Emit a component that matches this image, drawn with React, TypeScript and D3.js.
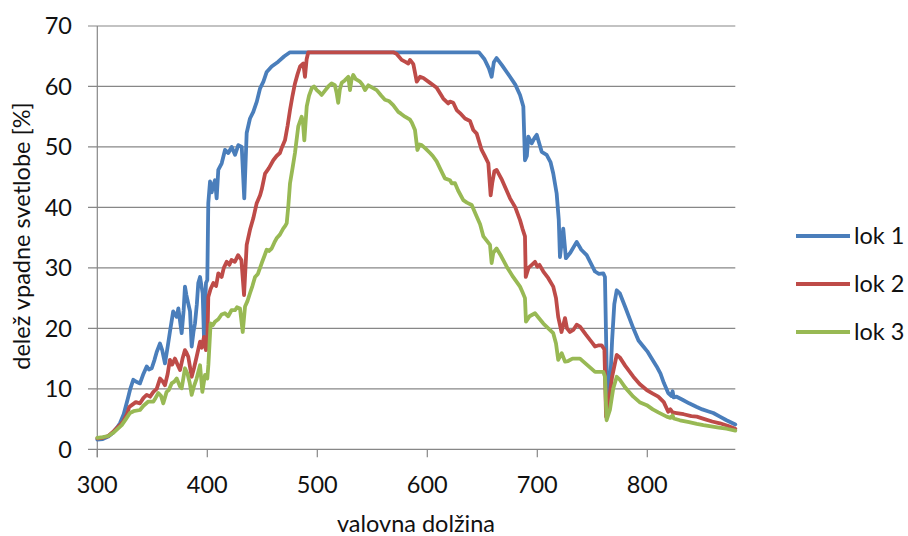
import React from "react";
import * as d3 from "d3";

// ---- data (wavelength [nm], share of incident light [%]) ----
const seriesNames = ["lok 1", "lok 2", "lok 3"];
const seriesColors = ["#4a7ebb", "#be4b48", "#98b954"];
const xTicks = [300, 400, 500, 600, 700, 800];
const yTicks = [0, 10, 20, 30, 40, 50, 60, 70];

const lok1: [number, number][] = [
  [300,1.6],[305,1.7],[310,2.1],[314,2.7],[318,3.6],[320.6,4.3],[324,5.8],[328.2,8.7],[330,10],[332.7,11.5],[335,11.2],[338.8,10.9],[342,12.5],[344.9,13.7],[347,13.2],[349.5,13.4],[352,14.8],[354,16.1],[357,17.5],[359,16.4],[361.5,14.2],[364,17],[366,19.4],[369,22.8],[372.2,21.9],[373.7,23.3],[375,21.5],[376.7,19.2],[378.5,23],[379.7,26.9],[381,25.5],[382.7,24.1],[384.3,22.8],[385.8,17],[387.5,19.5],[388.8,20.8],[390.5,24],[391.8,27.5],[393.4,28.5],[395.8,25.8],[397,18.4],[398.8,27.5],[400,28],[400.9,40.7],[402.5,44.3],[404,42.5],[405.5,43.7],[407,44.5],[408.5,41.5],[410,46.2],[413.1,47.3],[416.1,49.5],[419.1,49],[422.2,50],[425.2,48.7],[428.2,50.3],[431.3,50],[433.6,41.5],[435.8,52.3],[438.8,54.7],[441.8,55.8],[445,57.5],[448,59.7],[451,60.8],[454,62.4],[458.5,63.3],[464.5,64.1],[470,65],[475.2,65.65],[647,65.65],[652,64.5],[656,63],[658.5,61.6],[660.5,64],[663,64.7],[668,63.5],[675.2,61.6],[680,60.3],[684.3,58.6],[687.3,56.7],[688.8,47.8],[690.5,48.5],[691.8,51.7],[694.9,50.6],[697.5,51.5],[699.5,52],[704,49.2],[708.5,48.7],[712,47.5],[714.5,45.6],[717.6,42.3],[719.5,38],[720.6,31.8],[722,34],[723.6,36.5],[726,31.6],[730,32.5],[735.8,34.3],[740,33],[744.9,32.1],[748,31],[752.5,29.4],[756,29],[760,29.1],[761.5,28.5],[763,14],[764.5,7],[766,10],[768,18],[770,24],[772.2,26.3],[775,25.8],[780,23.5],[787.3,20],[792,18],[796.4,17],[800,16.2],[804,15],[808.5,13.7],[812,12.5],[815,11],[819,9.3],[822,8.8],[823,9.6],[824,8.6],[826.7,8.7],[832,8.2],[838,7.6],[845,7],[850,6.6],[855,6.3],[860,6],[866,5.4],[872,4.8],[880,4.1],
];

const lok2: [number, number][] = [
  [300,1.8],[305,1.9],[310,2.2],[315,3],[320,3.9],[323.6,4.6],[327,5.8],[329,7],[331.3,7.3],[335,7.8],[338.8,7.6],[342,8.5],[344.9,9],[348,8.7],[351,9.5],[354,10],[357,11.7],[359.5,11.2],[361.5,10.6],[364,12.5],[366,14.8],[368,14],[370.6,15],[373,14],[375.2,13.1],[377.5,15],[379.7,16.4],[381,16],[382.7,15.3],[385.8,12],[388,13.5],[390.3,15.3],[393.4,17.8],[395,16.8],[397,18.6],[398.8,16.4],[400,17],[400.9,25.2],[403,26.5],[405.5,27.5],[408,27],[410,29.1],[413,28.5],[415,30],[417.6,31],[420,30.5],[422,31.3],[425,31],[428,32.1],[431,31.3],[433.4,25.5],[435.8,33.8],[438.8,36.3],[441.8,38.2],[444.9,40.7],[448,42],[449.5,43],[452.5,45.6],[456,46.5],[460,47.8],[463,48.5],[466,49],[468,50],[470.6,51.1],[473,53.5],[475.2,56.1],[477.5,58.5],[479.7,60.5],[482,62],[484.3,63.3],[487.3,63.8],[488.8,61.6],[490.3,64.5],[491.8,65.65],[569,65.65],[572,65.4],[576.7,64.4],[579.7,64.1],[582.7,63.8],[584.3,64.4],[587.3,63.7],[590.4,60.8],[593.4,61.6],[596.4,61.4],[602.5,60.6],[605.5,60.2],[608.5,59.8],[614.5,58],[619,57.2],[620.6,57.5],[623.6,57.3],[626.7,56.1],[629.7,55.6],[634.3,54.7],[638.8,54.3],[641.8,52.8],[644.9,52.2],[649.4,49.5],[652,48.6],[655.5,47.3],[657.6,42],[659,44],[661,46],[663,46.2],[668,44.5],[675.2,41.5],[680,40],[684.3,37.9],[686.5,36.5],[688.8,35.2],[689.5,28.5],[692,30],[695,30.5],[697.9,31],[700,30.2],[702,30.5],[705.5,29.4],[710,28.3],[714.5,26.9],[717,25],[719,21.9],[722,19.4],[723.5,20.5],[725.2,21.7],[727,20],[729.7,19.4],[733,19.8],[735.8,20.6],[738.8,20.3],[744,19],[750,17.6],[752.5,17],[756,17.2],[758.5,17.2],[761,16.5],[762.5,5.4],[765,8],[768,12],[772.2,15.6],[775,15.2],[780,13.8],[787.3,12],[793,10.8],[799.5,9.8],[805,9.2],[810,8.7],[815,7.8],[819,6.2],[821,6.6],[823,6.1],[826.7,6],[833,5.8],[840,5.5],[845,5.4],[852,5],[859,4.6],[866,4.3],[873,3.9],[880,3.4],
];

const lok3: [number, number][] = [
  [300,1.9],[305,2],[310,2.2],[315,2.8],[322.2,4],[326,5],[329.7,6],[333,6.3],[338.8,6.5],[342,7.2],[346.4,7.9],[351,7.9],[353,8.5],[355.5,9.3],[358,8.8],[360,7.6],[363,9.5],[365,9.8],[367.6,10.9],[370,11.2],[372.2,11.7],[375.2,10.4],[376.7,10.1],[378,11.5],[379.7,13.4],[382,12.5],[384,11],[385.8,9],[388,10.5],[390.3,11.7],[393.4,13.9],[395.5,9.5],[397.9,12.3],[400,11.7],[401,14],[403,20.8],[405,20.5],[407,21.1],[410,21.5],[413,22.3],[416,22.5],[419,22],[422,23],[425.2,23],[427,23.5],[429.7,23.3],[432.2,19.4],[434.3,23.6],[436.5,24.5],[438.8,25.8],[441,27],[443.4,28.5],[446,29],[449.5,30.8],[452,32],[454,33],[456,32.8],[458.5,33.2],[461,34.2],[463,34.9],[466,35.5],[469,36.5],[471,37],[472.2,37.4],[473.6,40.1],[475.2,44],[477.5,46.5],[479.7,49],[482.7,53.4],[485.8,55],[487,54],[488.2,51.1],[490.4,56.7],[492.5,58.5],[494.9,59.7],[497,60],[499.5,59.4],[502,59],[504,58.6],[507,59.3],[510,60],[513,60.5],[516,60.2],[517.5,59],[519,57.3],[520.5,59.5],[522.2,60.6],[525,61],[528.2,61.6],[529.7,59.4],[531,61],[532.7,61.9],[535,61.2],[538.8,60.8],[541,60.3],[543.4,59.4],[546.4,60.2],[550,59.8],[554,59.4],[558,58.5],[561.5,57.8],[565,57.6],[569,56.9],[573.6,55.8],[576,55.5],[579.7,55],[584.3,54.5],[586,54],[588.8,52.8],[591,49.5],[593,50.4],[594.9,50.3],[598,49.8],[602.5,49],[605,48.5],[608.5,47.6],[612,46.3],[616,44.8],[620.6,44.5],[622.2,44],[625.2,44],[628,42.8],[632.7,41.2],[636,40.8],[640.4,40.4],[644.9,38.5],[648,37.2],[651,35.2],[654,34.5],[657,33.8],[658.5,30.8],[660,32.5],[663,33.2],[667,32],[672.2,30.2],[678,28.5],[684.3,26.9],[686.5,26],[688.8,25],[689.7,21.1],[693,22],[697.9,22.5],[701,21.8],[705.5,20.8],[710,20],[714.5,19.2],[717,17.5],[719,14.8],[722.2,15.9],[725.2,14.5],[728,14.6],[732,15],[735.8,15],[738.8,15],[745,14],[752.5,12.8],[756,12.8],[760,12.8],[761.5,12],[763,4.8],[766,6.5],[769,10],[772.2,12],[775,11.5],[780,10.2],[787.3,8.7],[793,7.8],[799.5,7.3],[805,6.6],[810,6.1],[817.6,5.4],[821,5.2],[823,5.6],[824,5.1],[829.7,4.8],[838,4.5],[845,4.2],[851,4],[858,3.8],[865,3.6],[872,3.4],[880,3.1],
];

const allSeries = [lok1, lok2, lok3];

const W = 908;
const H = 536;
const FONT = "Lato, 'Open Sans', sans-serif";
const FS = 23.5;
const TEXT = "#111";

export default function App() {
  const x = d3.scaleLinear().domain([300, 880]).range([97.3, 735.3]);
  const y = d3.scaleLinear().domain([0, 70]).range([449.3, 26]);
  const line = d3
    .line<[number, number]>()
    .x((d) => x(d[0]))
    .y((d) => y(d[1]));
  const gridColor = "#878787";

  return (
    <svg
      width={W}
      height={H}
      style={{ position: "absolute", left: 0, top: 0, background: "#fff" }}
      fontFamily={FONT}
    >
      {/* horizontal gridlines */}
      {yTicks.map((t) => (
        <line
          key={"g" + t}
          x1={88}
          x2={x(880)}
          y1={y(t)}
          y2={y(t)}
          stroke={gridColor}
          strokeWidth={1.2}
        />
      ))}
      {/* y axis */}
      <line x1={x(300)} x2={x(300)} y1={y(70)} y2={y(0) + 8} stroke={gridColor} strokeWidth={1.2} />
      {/* x ticks */}
      {xTicks.map((t) => (
        <line key={"xt" + t} x1={x(t)} x2={x(t)} y1={y(0)} y2={y(0) + 8} stroke={gridColor} strokeWidth={1.2} />
      ))}
      {/* y tick labels */}
      {yTicks.map((t) => (
        <text
          key={"yl" + t}
          x={72}
          y={y(t)}
          dy="0.36em"
          textAnchor="end"
          fontSize={FS}
          fill={TEXT}
        >
          {t}
        </text>
      ))}
      {/* x tick labels */}
      {xTicks.map((t) => (
        <text key={"xl" + t} x={x(t)} y={492.5} textAnchor="middle" fontSize={FS} fill={TEXT}>
          {t}
        </text>
      ))}
      {/* axis titles */}
      <text x={416} y={532} textAnchor="middle" fontSize={FS} fill={TEXT}>
        valovna dolžina
      </text>
      <text
        transform={`translate(30, 236) rotate(-90)`}
        textAnchor="middle"
        fontSize={FS}
        fill={TEXT}
      >
        delež vpadne svetlobe [%]
      </text>
      {/* series */}
      {allSeries.map((s, i) => (
        <path
          key={"s" + i}
          d={line(s) || ""}
          fill="none"
          stroke={seriesColors[i]}
          strokeWidth={3.8}
          strokeLinejoin="round"
          strokeLinecap="round"
        />
      ))}
      {/* legend */}
      {seriesNames.map((n, i) => {
        const ly = 236 + i * 48;
        return (
          <g key={"lg" + i}>
            <line x1={796} x2={850} y1={ly} y2={ly} stroke={seriesColors[i]} strokeWidth={4} />
            <text x={854} y={ly} dy="0.36em" fontSize={FS} fill={TEXT}>
              {n}
            </text>
          </g>
        );
      })}
    </svg>
  );
}
